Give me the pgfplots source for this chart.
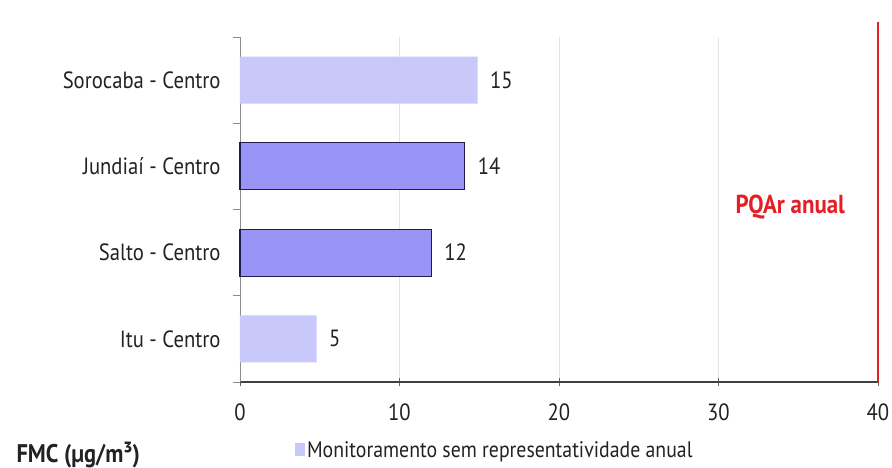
\documentclass[border=0pt]{standalone}
\usepackage{pgfplots}
\pgfplotsset{compat=1.18}
\usepackage{fontspec}
\setmainfont[FakeStretch=0.88]{PT Sans}
\definecolor{lightbar}{HTML}{C9C8FA}
\definecolor{darkbar}{HTML}{9895F6}
\definecolor{darkedge}{HTML}{1E1E4E}
\definecolor{pqred}{HTML}{E31E26}
\definecolor{gridgray}{HTML}{E4E4E4}
\definecolor{txt}{HTML}{222222}
\begin{document}
\begin{tikzpicture}
\begin{axis}[
  at={(0,0)}, anchor=south west,
  scale only axis, width=638pt, height=345pt,
  xbar, bar shift=0pt, bar width=47pt,
  xmin=0, xmax=40, ymin=-0.5, ymax=3.5,
  xtick={0,10,20,30,40},
  ytick={0,1,2,3},
  yticklabels={Itu - Centro, Salto - Centro, Jundiaí - Centro, Sorocaba - Centro},
  minor ytick={-0.5,0.5,1.5,2.5,3.5},
  axis x line*=bottom, axis y line*=left,
  x axis line style={draw=black!75, line width=1.2pt, -},
  y axis line style={draw=black!45, line width=0.8pt, -},
  ymajorgrids=false, xmajorgrids=true,
  grid style={gridgray, line width=0.8pt},
  major y tick style={draw=none},
  minor y tick style={draw=black!45, line width=0.8pt},
  minor tick length=7pt,
  x tick style={draw=black!60, line width=0.8pt},
  major tick length=8pt,
  xtick align=center, ytick align=outside,
  tick label style={font=\fontsize{23.5}{25}\selectfont, text=txt},
  /pgf/number format/assume math mode=true,
  yticklabel style={xshift=-8pt},
  xticklabel style={yshift=-14pt},
  nodes near coords, point meta=explicit symbolic,
  nodes near coords style={anchor=west, xshift=9pt, font=\fontsize{23.5}{25}\selectfont, text=txt},
  clip=false,
  legend style={at={(0.086,-0.197)}, anchor=west, draw=none, fill=none,
    font=\fontsize{22.5}{24}\selectfont, text=txt, inner sep=0pt},
  legend image code/.code={\fill[lightbar] (0pt,-6pt) rectangle (10pt,7pt);},
]
\addplot[fill=lightbar, draw=none] table[meta=lab] {
x y lab
14.9 3 15
4.8 0 5
};
\addlegendentry{Monitoramento sem representatividade anual}
\addplot[fill=darkbar, draw=darkedge, line width=1.2pt] table[meta=lab] {
x y lab
14.1 2 14
12.0 1 12
};
\draw[pqred, line width=2.2pt] (axis cs:40,-0.5) -- (axis cs:40,3.67);
\node[text=pqred, font=\bfseries\fontsize{26}{28}\selectfont] at (axis cs:34.5,1.53) {PQAr anual};
\end{axis}
\node[anchor=west, text=txt, font=\bfseries\fontsize{25.5}{27}\selectfont] at (-227pt,-73pt) {FMC (µg/m³)};
\pgfresetboundingbox
\path[use as bounding box] (-240pt,-86pt) rectangle (652pt,382pt);
\end{tikzpicture}
\end{document}
